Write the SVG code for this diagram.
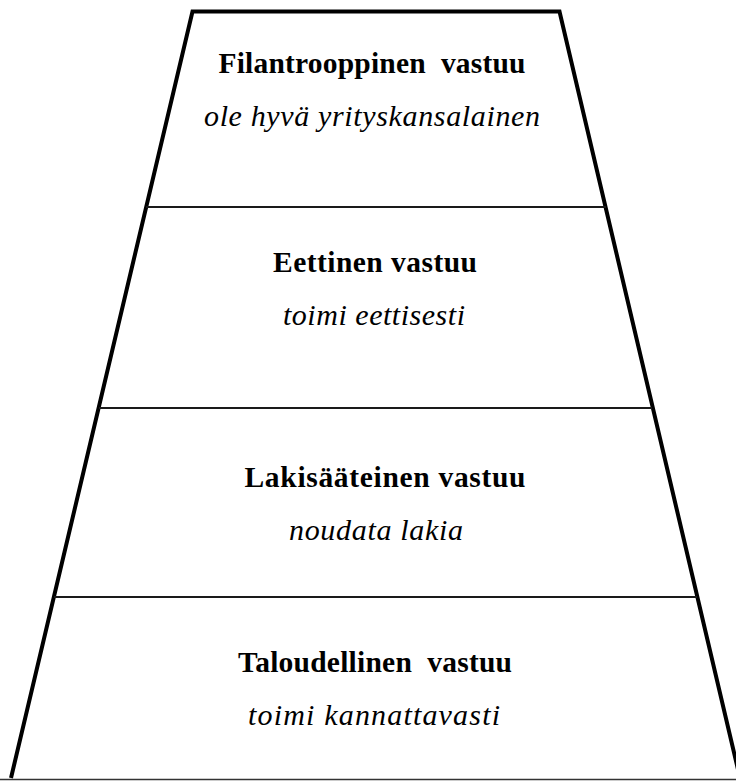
<svg xmlns="http://www.w3.org/2000/svg" width="736" height="781" viewBox="0 0 736 781">
<style>
.edge{fill:none;stroke:#000;stroke-width:4;stroke-linejoin:miter}
.div{stroke:#1a1a1a;stroke-width:2}
.t{font-family:"Liberation Serif","Times New Roman",serif;font-weight:bold;font-size:29.5px;fill:#000;text-anchor:middle;white-space:pre}
.s{font-family:"Liberation Serif","Times New Roman",serif;font-style:italic;font-size:30px;fill:#000;text-anchor:middle}
</style>
<rect width="736" height="781" fill="#fff"/>
<g id="connectors">
<polyline class="edge" points="11,778 192.5,11.5 559.5,11.5 740,778"/>
<line x1="0" y1="779.5" x2="736" y2="779.5" stroke="#333" stroke-width="1.5"/>
<line class="div" x1="146" y1="207" x2="606" y2="207"/>
<line class="div" x1="99" y1="408" x2="652" y2="408"/>
<line class="div" x1="54" y1="597" x2="697" y2="597"/>
</g>
<g id="level4">
<text class="t" x="372" y="73" textLength="307" lengthAdjust="spacing" xml:space="preserve">Filantrooppinen  vastuu</text>
<text class="s" x="372" y="126" textLength="336" lengthAdjust="spacing">ole hyvä yrityskansalainen</text>
</g>
<g id="level3">
<text class="t" x="375" y="272" textLength="204" lengthAdjust="spacing">Eettinen vastuu</text>
<text class="s" x="374" y="325" textLength="182" lengthAdjust="spacing">toimi eettisesti</text>
</g>
<g id="level2">
<text class="t" x="385" y="487" textLength="281" lengthAdjust="spacing">Lakisääteinen vastuu</text>
<text class="s" x="376" y="540" textLength="174" lengthAdjust="spacing">noudata lakia</text>
</g>
<g id="level1">
<text class="t" x="375" y="672" textLength="274" lengthAdjust="spacing" xml:space="preserve">Taloudellinen  vastuu</text>
<text class="s" x="374" y="725" textLength="252" lengthAdjust="spacing">toimi kannattavasti</text>
</g>
</svg>
